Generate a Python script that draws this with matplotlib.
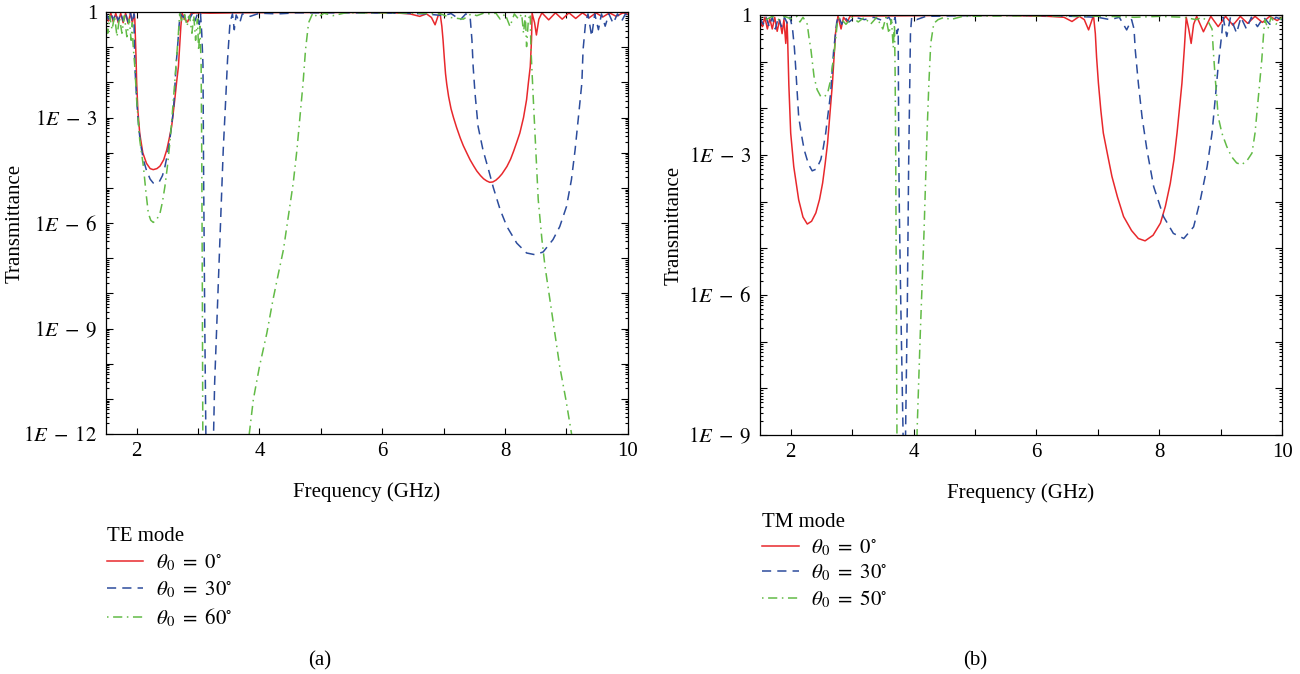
import numpy as np
import matplotlib
matplotlib.use("Agg")
import matplotlib.pyplot as plt
from matplotlib.ticker import MultipleLocator, LogLocator, FuncFormatter, NullFormatter

plt.rcParams['font.family'] = 'serif'
plt.rcParams['font.serif'] = ['Liberation Serif', 'DejaVu Serif']
plt.rcParams['mathtext.fontset'] = 'stix'

# values: frequency (GHz) and log10 of transmittance
te0_f = [1.50, 1.54, 1.58, 1.62, 1.66, 1.70, 1.74, 1.78, 1.82, 1.86, 1.90, 1.93, 1.96,
         1.97, 1.99, 2.00, 2.02, 2.05, 2.10, 2.16, 2.22, 2.27, 2.33, 2.38, 2.44, 2.49, 2.53,
         2.57, 2.62, 2.65, 2.68, 2.72, 2.74, 2.79, 2.83, 2.88, 2.95, 3.2, 3.6, 4.5, 5.5, 6.2,
         6.45, 6.61, 6.72, 6.80, 6.86, 6.91, 6.94, 6.97, 6.99, 7.01, 7.03, 7.05, 7.08, 7.12,
         7.16, 7.21, 7.27, 7.32, 7.38, 7.43, 7.49, 7.54, 7.60, 7.65, 7.70, 7.75, 7.80, 7.85,
         7.90, 7.95, 8.03, 8.09, 8.14, 8.19, 8.24, 8.30, 8.35, 8.38, 8.41, 8.43, 8.44, 8.48,
         8.51, 8.55, 8.60, 8.71, 8.82, 8.93, 9.04, 9.15, 9.26, 9.37, 9.48, 9.59, 9.70, 9.81,
         9.92, 10.0]
te0_logt = [-0.05, -0.25, -0.03, -0.28, -0.03, -0.3, -0.03, -0.3, -0.03, -0.32, -0.03, -0.3, -0.05,
            -0.2, -1.3, -2.0, -2.8, -3.45, -4.0, -4.3, -4.45, -4.48, -4.45, -4.38, -4.2, -3.92, -3.6,
            -3.25, -2.5, -2.0, -1.55, -0.4, -0.03, -0.22, -0.28, -0.05, -0.02, -0.03, -0.02, -0.01, -0.01, -0.02,
            -0.05, -0.12, -0.05, -0.15, -0.36, -0.1, -0.02, -0.4, -0.8, -1.3, -1.75, -2.05, -2.4, -2.75,
            -3.0, -3.28, -3.58, -3.8, -4.02, -4.2, -4.38, -4.52, -4.65, -4.74, -4.8, -4.84, -4.83, -4.78,
            -4.7, -4.6, -4.39, -4.18, -3.95, -3.7, -3.44, -3.0, -2.49, -2.0, -1.55, -0.8, -0.03, -0.3,
            -0.65, -0.2, -0.02, -0.22, -0.02, -0.2, -0.02, -0.18, -0.02, -0.16, -0.02, -0.14, -0.02, -0.12,
            -0.02, -0.06]

te30_f = [1.50, 1.54, 1.58, 1.62, 1.66, 1.70, 1.74, 1.78, 1.82, 1.86, 1.90, 1.93, 1.955,
          1.97, 2.00, 2.03, 2.06, 2.11, 2.16, 2.22, 2.27, 2.32, 2.37, 2.42, 2.46, 2.50, 2.54,
          2.57, 2.60, 2.62, 2.64, 2.67, 2.69, 2.71, 2.76, 2.81, 2.86, 2.91, 2.95, 2.99, 3.02,
          3.04, 3.06, 3.08, 3.09, 3.11, 3.13, 3.15, 3.23, 3.25, 3.27, 3.30, 3.33, 3.37, 3.41,
          3.45, 3.48, 3.52, 3.56, 3.59, 3.62, 3.68, 3.72, 3.85, 4.0, 4.3, 4.6, 5.5, 6.3, 6.7,
          7.0, 7.12, 7.27, 7.36, 7.43, 7.46, 7.48, 7.51, 7.56, 7.64, 7.73, 7.81, 7.92, 8.03,
          8.19, 8.35, 8.49, 8.62, 8.78, 8.89, 9.00, 9.08, 9.14, 9.19, 9.25, 9.27, 9.31, 9.35,
          9.41, 9.46, 9.52, 9.57, 9.63, 9.69, 9.76, 9.83, 9.90, 9.96, 10.0]
te30_logt = [-0.03, -0.2, -0.03, -0.22, -0.03, -0.25, -0.03, -0.25, -0.03, -0.28, -0.03, -0.3, -0.05,
             -1.5, -2.5, -3.2, -3.7, -4.2, -4.5, -4.75, -4.86, -4.87, -4.82, -4.65, -4.4, -4.05, -3.63,
             -3.2, -2.78, -2.2, -1.55, -0.9, -0.4, -0.05, -0.15, -0.03, -0.2, -0.03, -0.25, -0.05, -0.35,
             -0.05, -0.6, -1.5, -4.5, -9.0, -12.5, -13.5, -13.5, -12.2, -10.55, -9.13, -7.7, -5.81, -3.92,
             -2.49, -1.36, -0.3, -0.05, -0.5, -0.08, -0.3, -0.05, -0.12, -0.03, -0.05, -0.02, -0.02, -0.03, -0.05,
             -0.1, -0.04, -0.22, -0.05, -0.12, -0.79, -1.55, -2.3, -3.25, -3.92, -4.48, -5.0, -5.62, -6.1,
             -6.57, -6.85, -6.9, -6.82, -6.47, -6.1, -5.53, -4.77, -3.92, -3.06, -2.02, -1.07, -0.31, -0.05,
             -0.69, -0.05, -0.5, -0.05, -0.4, -0.05, -0.32, -0.05, -0.25, -0.05, -0.1]

te60_f = [1.50, 1.53, 1.56, 1.60, 1.64, 1.68, 1.72, 1.76, 1.80, 1.84, 1.88, 1.91, 1.93,
          1.94, 1.97, 2.00, 2.05, 2.11, 2.15, 2.19, 2.23, 2.27, 2.32, 2.38, 2.42, 2.46, 2.50,
          2.54, 2.58, 2.62, 2.65, 2.68, 2.70, 2.74, 2.78, 2.82, 2.86, 2.90, 2.93, 2.96, 2.99,
          3.01, 3.03, 3.05, 3.06, 3.07, 3.08, 3.75, 3.82, 3.90, 4.00, 4.12, 4.22, 4.31, 4.39,
          4.47, 4.55, 4.61, 4.66, 4.71, 4.75, 4.80, 4.87, 4.95, 5.05, 5.2, 5.4, 6.0, 6.6, 6.95,
          7.1, 7.32, 7.45, 7.54, 7.65, 7.75, 7.85, 7.92, 8.0, 8.08, 8.15, 8.22, 8.27, 8.30,
          8.33, 8.35, 8.38, 8.41, 8.42, 8.46, 8.50, 8.54, 8.60, 8.65, 8.73, 8.81, 8.89, 8.99,
          9.08, 9.20, 10.0]
te60_logt = [-0.3, -0.6, -0.1, -0.5, -0.1, -0.7, -0.15, -0.6, -0.1, -0.7, -0.2, -0.8, -0.3,
             -0.88, -1.55, -2.49, -3.63, -4.39, -5.1, -5.72, -5.92, -5.98, -5.92, -5.72, -5.4, -4.96, -4.4,
             -3.73, -2.9, -2.0, -1.3, -0.6, -0.05, -0.3, -0.05, -0.4, -0.1, -0.6, -0.1, -0.8, -0.2,
             -1.1, -0.4, -1.5, -4.0, -8.0, -13.5, -13.5, -12.2, -11.02, -10.08, -9.13, -8.18, -7.42, -6.76,
             -5.81, -4.86, -3.92, -2.97, -2.02, -1.07, -0.3, -0.02, -0.15, -0.03, -0.1, -0.02, -0.02, -0.03, -0.05,
             -0.15, -0.2, -0.05, -0.1, -0.03, -0.05, -0.03, -0.2, -0.05, -0.41, -0.05, -0.2, -0.05, -0.6,
             -0.1, -0.98, -0.2, -0.05, -1.0, -2.49, -3.92, -5.34, -6.47, -7.23, -8.18, -9.13, -10.08, -11.02,
             -11.97, -13.5, -13.5]

tm0_f = [1.50, 1.54, 1.58, 1.62, 1.66, 1.70, 1.74, 1.78, 1.82, 1.86, 1.89, 1.92, 1.94, 1.95,
         1.97, 2.00, 2.05, 2.13, 2.20, 2.27, 2.34, 2.41, 2.47, 2.52, 2.56, 2.60, 2.64, 2.68,
         2.73, 2.77, 2.82, 2.86, 2.92, 2.97, 3.5, 4.5, 5.5, 6.2, 6.45, 6.58, 6.70, 6.78, 6.85,
         6.93, 6.96, 6.98, 7.01, 7.05, 7.09, 7.16, 7.23, 7.32, 7.42, 7.55, 7.66, 7.77, 7.90,
         8.02, 8.10, 8.18, 8.24, 8.29, 8.33, 8.37, 8.41, 8.44, 8.48, 8.52, 8.56, 8.61, 8.72,
         8.84, 8.96, 9.08, 9.20, 9.32, 9.44, 9.56, 9.68, 9.80, 9.92, 10.0]
tm0_logt = [-0.1, -0.25, -0.05, -0.3, -0.08, -0.3, -0.05, -0.35, -0.1, -0.4, -0.1, -0.61, -0.15, -0.5,
            -1.5, -2.53, -3.25, -3.96, -4.33, -4.48, -4.42, -4.24, -3.95, -3.6, -3.2, -2.75, -2.1, -1.46,
            -0.39, -0.02, -0.3, -0.05, -0.15, -0.02, -0.02, -0.01, -0.01, -0.03, -0.05, -0.14, -0.03, -0.1, -0.32,
            -0.01, -0.4, -0.9, -1.46, -2.05, -2.53, -3.0, -3.46, -3.9, -4.32, -4.62, -4.79, -4.84, -4.72,
            -4.46, -4.1, -3.61, -3.1, -2.53, -2.0, -1.46, -0.7, -0.05, -0.3, -0.61, -0.2, -0.03, -0.36,
            -0.03, -0.25, -0.03, -0.22, -0.03, -0.18, -0.03, -0.16, -0.03, -0.12, -0.05]

tm30_f = [1.50, 1.55, 1.60, 1.65, 1.70, 1.75, 1.80, 1.85, 1.90, 1.95, 1.99, 2.03, 2.06,
          2.08, 2.13, 2.18, 2.22, 2.29, 2.35, 2.42, 2.49, 2.53, 2.57, 2.61, 2.65, 2.70, 2.75,
          2.78, 2.83, 2.88, 2.95, 3.05, 3.2, 3.35, 3.5, 3.6, 3.66, 3.70, 3.73, 3.75, 3.76,
          3.77, 3.79, 3.81, 3.83, 3.85, 3.86, 3.87, 3.90, 3.92, 3.95, 3.97, 4.05, 4.2, 5.0,
          6.0, 6.6, 7.0, 7.20, 7.35, 7.47, 7.55, 7.59, 7.61, 7.66, 7.72, 7.80, 7.91, 8.07,
          8.23, 8.40, 8.56, 8.67, 8.78, 8.86, 8.91, 8.96, 9.02, 9.04, 9.10, 9.16, 9.26, 9.33,
          9.42, 9.50, 9.60, 9.70, 9.80, 9.90, 10.0]
tm30_logt = [-0.05, -0.2, -0.05, -0.25, -0.05, -0.3, -0.05, -0.25, -0.05, -0.2, -0.05, -0.3, -0.7,
             -1.1, -2.18, -2.6, -2.89, -3.2, -3.34, -3.3, -3.1, -2.85, -2.53, -2.1, -1.68, -0.75, -0.15,
             -0.02, -0.2, -0.05, -0.15, -0.05, -0.1, -0.05, -0.12, -0.05, -0.2, -0.05, -0.4, -0.3, -3.0,
             -4.3, -6.0, -7.5, -9.0, -10.0, -10.0, -9.0, -6.1, -3.25, -0.39, -0.05, -0.1, -0.03, -0.01,
             -0.01, -0.03, -0.05, -0.1, -0.05, -0.32, -0.1, -0.3, -0.75, -1.46, -2.18, -2.89, -3.68, -4.32,
             -4.68, -4.79, -4.54, -3.96, -3.25, -2.53, -1.82, -1.1, -0.39, -0.05, -0.46, -0.05, -0.39, -0.05,
             -0.3, -0.05, -0.25, -0.05, -0.2, -0.05, -0.1]

tm50_f = [1.50, 1.60, 1.70, 1.80, 1.90, 2.00, 2.10, 2.15, 2.20, 2.25, 2.27, 2.30, 2.33,
          2.38, 2.43, 2.49, 2.55, 2.60, 2.64, 2.68, 2.73, 2.76, 2.80, 2.9, 3.0, 3.1, 3.2,
          3.3, 3.4, 3.5, 3.55, 3.6, 3.64, 3.67, 3.69, 3.70, 3.71, 3.72, 3.73, 3.74, 4.04,
          4.06, 4.11, 4.17, 4.22, 4.25, 4.28, 4.33, 4.40, 4.5, 4.6, 4.8, 5.5, 6.5, 7.2, 7.6,
          8.0, 8.4, 8.6, 8.7, 8.80, 8.86, 8.88, 8.91, 8.94, 8.96, 9.02, 9.10, 9.18, 9.26,
          9.34, 9.43, 9.51, 9.56, 9.61, 9.67, 9.70, 9.72, 9.77, 9.82, 9.90, 10.0]
tm50_logt = [-0.05, -0.1, -0.03, -0.1, -0.03, -0.08, -0.03, -0.15, -0.05, -0.15, -0.2, -0.5, -0.75,
             -1.32, -1.6, -1.75, -1.75, -1.68, -1.45, -1.1, -0.55, -0.15, -0.05, -0.2, -0.05, -0.15, -0.05,
             -0.2, -0.05, -0.3, -0.05, -0.4, -0.1, -0.7, -0.2, -1.2, -3.0, -6.0, -9.0, -10.0, -10.0,
             -8.82, -6.82, -4.68, -2.53, -1.46, -0.61, -0.18, -0.1, -0.05, -0.1, -0.03, -0.02, -0.02, -0.03, -0.05,
             -0.03, -0.05, -0.1, -0.05, -0.15, -0.3, -0.75, -1.32, -1.82, -2.18, -2.53, -2.82, -3.04, -3.17,
             -3.21, -3.12, -2.96, -2.53, -1.82, -0.96, -0.39, -0.1, -0.3, -0.05, -0.2, -0.05]

te_labels = [r'$\theta_0\ =\ 0^{\circ}$', r'$\theta_0\ =\ 30^{\circ}$', r'$\theta_0\ =\ 60^{\circ}$']
tm_labels = [r'$\theta_0\ =\ 0^{\circ}$', r'$\theta_0\ =\ 30^{\circ}$', r'$\theta_0\ =\ 50^{\circ}$']

red = '#e8282c'
blue = '#2c4c9c'
green = '#62bb46'
styles = [dict(color=red, lw=1.1, ls='-'),
          dict(color=blue, lw=1.1, ls=(0, (6, 4))),
          dict(color=green, lw=1.1, ls=(0, (1, 3, 6, 3)))]


def log_label(v, pos):
    e = int(round(np.log10(v)))
    if e == 0:
        return '1'
    if e % 3 == 0:
        return r'$1E\;-\;%d$' % (-e)
    return ''


def setup(ax, ymin):
    ax.set_yscale('log')
    ax.set_xlim(1.5, 10)
    ax.set_ylim(ymin, 1)
    ax.xaxis.set_major_locator(MultipleLocator(2))
    ax.xaxis.set_minor_locator(MultipleLocator(1))
    ax.yaxis.set_major_locator(LogLocator(base=10, numticks=30))
    ax.yaxis.set_minor_locator(LogLocator(base=10, subs=np.arange(2, 10), numticks=300))
    ax.yaxis.set_major_formatter(FuncFormatter(log_label))
    ax.yaxis.set_minor_formatter(NullFormatter())
    ax.tick_params(which='both', direction='in', top=True, right=True, labelsize=15, width=0.8)
    ax.tick_params(axis='x', which='both', length=4, pad=6)
    ax.tick_params(axis='y', which='major', length=5, pad=6)
    ax.tick_params(axis='y', which='minor', length=2.5)
    for s in ax.spines.values():
        s.set_linewidth(0.9)
    ax.set_xlabel('Frequency (GHz)', fontsize=15, labelpad=15)
    ax.set_ylabel('Transmittance', fontsize=15)


fig = plt.figure(figsize=(13, 6.74), dpi=100)
ax1 = fig.add_axes([0.0815, 0.356, 0.4015, 0.626])
ax2 = fig.add_axes([0.5846, 0.3546, 0.4016, 0.6232])

for f, lt, lab, st in zip([te0_f, te30_f, te60_f], [te0_logt, te30_logt, te60_logt], te_labels, styles):
    ax1.plot(f, 10.0 ** np.array(lt), label=lab, **st)
for f, lt, lab, st in zip([tm0_f, tm30_f, tm50_f], [tm0_logt, tm30_logt, tm50_logt], tm_labels, styles):
    ax2.plot(f, 10.0 ** np.array(lt), label=lab, **st)

setup(ax1, 1e-12)
setup(ax2, 1e-9)
ax1.yaxis.set_label_coords(-0.155, 0.5)
ax2.yaxis.set_label_coords(-0.147, 0.5)

leg_kw = dict(loc='upper left', frameon=False, borderpad=0, borderaxespad=0,
              handlelength=1.75, handletextpad=0.6,
              fontsize=15, title_fontsize=15, alignment='left')
ax1.legend(title='TE mode', bbox_to_anchor=(0.002, -0.22), labelspacing=0.31, **leg_kw)
ax2.legend(title='TM mode', bbox_to_anchor=(0.004, -0.186), labelspacing=0.24, **leg_kw)

fig.text(0.246, 0.019, '(a)', ha='center', va='center', fontsize=15)
fig.text(0.750, 0.019, '(b)', ha='center', va='center', fontsize=15)

fig.savefig('out.png', dpi=100)
